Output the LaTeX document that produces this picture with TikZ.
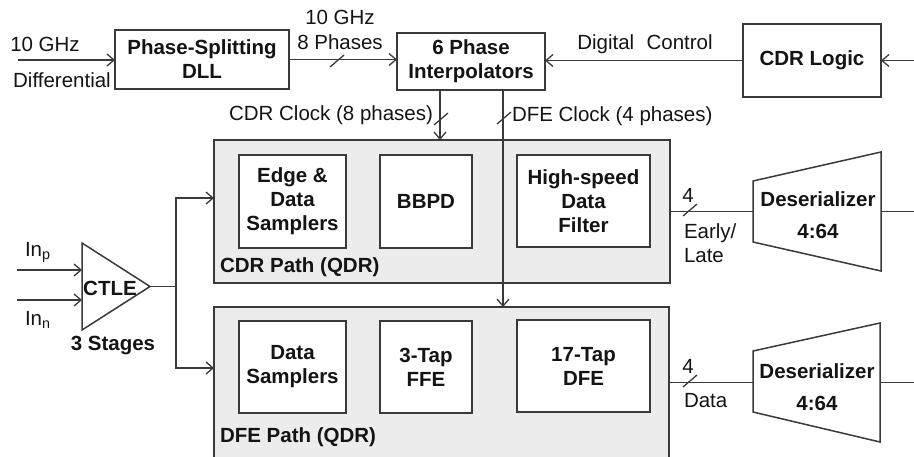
\documentclass[tikz,border=0pt]{standalone}
\usepackage{fontspec}
\setmainfont{Liberation Sans}
\usetikzlibrary{arrows.meta,calc}
\definecolor{ln}{HTML}{3A3A3A}
\definecolor{grpfill}{HTML}{ECECEC}
\definecolor{txt}{HTML}{141414}

\begin{document}
\begin{tikzpicture}[x=1pt,y=-1pt,
  font=\fontsize{20.5}{24}\selectfont,
  every node/.style={text=txt, inner sep=0pt, outer sep=0pt},
  wire/.style={draw=ln, line width=1.4pt},
  arr/.style={wire, -{Straight Barb[length=7pt,width=12pt,line width=1.3pt]}},
  blk/.style={draw=ln, line width=1.5pt, fill=white},
  grp/.style={draw=ln, line width=1.5pt, fill=grpfill},
  bold/.style={font=\fontsize{20.5}{24}\selectfont\bfseries, align=center},
  lbl/.style={align=center},
  pics/slash/.style={code={\draw[wire,line width=1.3pt] (-7,6) -- (7,-6);}},
]
\useasboundingbox (0,0) rectangle (914,456);
\clip (0,0) rectangle (914,456);

% ---- clock generation row ----
\node[blk, bold, minimum width=174pt, minimum height=59pt] (dll) at (202,59.5) {Phase-Splitting\\DLL};
\node[blk, bold, minimum width=148pt, minimum height=57pt] (pi) at (471,61.5) {6 Phase\\Interpolators};
\node[blk, bold, minimum width=138pt, minimum height=73pt] (cdr) at (812,60.5) {CDR Logic};

\coordinate (clkin) at (18,60);
\coordinate (cdrin) at (914,60.5);
\draw[arr] (clkin) -- (clkin -| dll.west);
\node[lbl] at (45,44) {10 GHz};
\node[lbl] at (62,80) {Differential};

\draw[arr] (dll.east) -- (dll.east -| pi.west);
\pic at (337,61) {slash};
\node[lbl] at (340,17) {10 GHz};
\node[lbl] at (340,42) {8 Phases};

\draw[arr] (cdr.west) -- (cdr.west -| pi.east);
\node[lbl] at (645,44) {Digital\hspace{0.6em}Control};
\draw[arr] (cdrin) -- (cdr.east);

% ---- data paths ----
\node[grp, minimum width=456pt, minimum height=143pt] (cdrp) at (442,211.5) {};
\node[grp, minimum width=455pt, minimum height=162pt] (dfep) at (441.5,388) {};

\node[blk, bold, minimum width=107pt, minimum height=93pt] (eds) at (292.5,201.5) {Edge \&\\Data\\Samplers};
\node[blk, bold, minimum width=92pt, minimum height=93pt] (bbpd) at (426,201.5) {BBPD};
\node[blk, bold, minimum width=133pt, minimum height=92pt] (hsf) at (583.5,201) {High-speed\\Data\\Filter};
\node[bold, anchor=west] at (220,267) {CDR Path (QDR)};

\node[blk, bold, minimum width=107pt, minimum height=92pt] (ds) at (292.5,367) {Data\\Samplers};
\node[blk, bold, minimum width=92pt, minimum height=92pt] (ffe) at (426,367) {3-Tap\\FFE};
\node[blk, bold, minimum width=133pt, minimum height=92pt] (dfe) at (583.5,366) {17-Tap\\DFE};
\node[bold, anchor=west] at (220,437) {DFE Path (QDR)};

% ---- clocks from the interpolators ----
\draw[arr] ([xshift=-31pt]pi.south) -- ([xshift=-31pt]pi.south |- cdrp.north);
\pic at (441,119) {slash};
\node[anchor=east] at (433,115) {CDR Clock (8 phases)};

\draw[arr] ([xshift=32pt]pi.south) -- ([xshift=32pt]pi.south |- dfep.north);
\pic at (504,118) {slash};
\node[anchor=west] at (512,116) {DFE Clock (4 phases)};

% ---- CTLE ----
\node[minimum width=68pt, minimum height=87pt] (ctle) at (116,286.5) {};
\draw[blk] (ctle.north west) -- (ctle.east) -- (ctle.south west) -- cycle;
\node[bold] at (110,288) {CTLE};
\node[bold] at (113,346) {3 Stages};

\coordinate (inp) at (17,270);
\coordinate (inn) at (17,300);
\draw[arr] (inp) -- (inp -| ctle.west);
\draw[arr] (inn) -- (inn -| ctle.west);
\node[anchor=west] at (25,252) {In\textsubscript{p}};
\node[anchor=west] at (25,320) {In\textsubscript{n}};

\coordinate (br) at (176,286.5);
\draw[wire] (ctle.east) -- (br);
\draw[arr] (br) |- ([yshift=13.5pt]cdrp.west);
\draw[arr] (br) |- ([yshift=20pt]dfep.west);

% ---- deserializers ----
\node[minimum width=128pt, minimum height=119pt] (des1) at (817,211.5) {};
\draw[blk] ($(des1.north west)+(0,29)$) -- (des1.north east) -- (des1.south east) -- ($(des1.south west)+(0,-29)$) -- cycle;
\node[bold] at (818,215) {Deserializer\\[8pt]4:64};

\node[minimum width=127pt, minimum height=119pt] (des2) at (816.5,382.5) {};
\draw[blk] ($(des2.north west)+(0,28)$) -- (des2.north east) -- (des2.south east) -- ($(des2.south west)+(0,-30)$) -- cycle;
\node[bold] at (817,387) {Deserializer\\[8pt]4:64};

\draw[wire] (cdrp.east) -- (des1.west);
\pic at (690,210) {slash};
\node at (688,195) {4};
\node[anchor=west, align=left] at (684,243) {Early/\\Late};

\draw[wire] (des2.west -| dfep.east) -- (des2.west);
\pic at (690,381) {slash};
\node at (688,366) {4};
\node[anchor=west] at (684,401) {Data};

\coordinate (out1) at (914,211.5);
\coordinate (out2) at (914,382.5);
\draw[wire] (des1.east) -- (out1);
\draw[wire] (des2.east) -- (out2);
\end{tikzpicture}
\end{document}
